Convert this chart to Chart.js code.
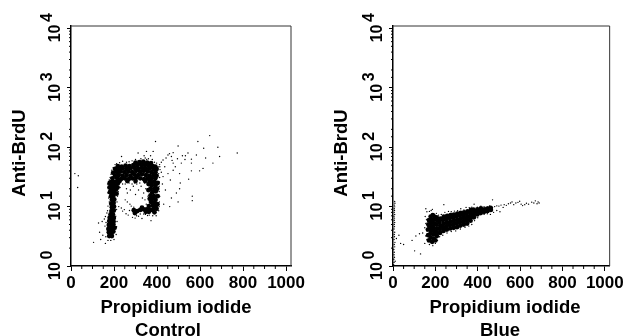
<!DOCTYPE html>
<html>
<head>
<meta charset="utf-8">
<style>
  html, body { margin: 0; padding: 0; background: #fff; overflow: hidden; }
  canvas { position: absolute; top: 0; }
  #controlChart { left: 0; }
  #blueChart { left: 313px; }
</style>
<script src="https://cdn.jsdelivr.net/npm/chart.js@4"></script>
</head>
<body>
<canvas id="controlChart" width="313" height="336"></canvas>
<canvas id="blueChart" width="313" height="336"></canvas>
<script>
// axis labels
const xTickLabels = [0, 200, 400, 600, 800, 1000];
const yTickLabels = [1, 10, 100, 1000, 10000];
const yExponents = ['0', '1', '2', '3', '4'];

// Control panel: solid parts of the cloud [propidium iodide, anti-BrdU]
const controlDense = [
  [178,3.2],[190,3.2],[176,3.7],[187,3.6],[197,3.8],[174,4.2],[184,4.2],[194,4.3],[203,4.4],[176,4.9],[186,4.9],[197,5],
  [178,5.7],[188,5.7],[198,5.6],[180,6.5],[190,6.6],[199,6.4],[184,7.4],[195,7.4],
  [188,8.4],[199,8.6],[190,9.8],[200,10],[187,11.2],[198,11.5],[190,13],[201,13.2],[186,15],[197,15.2],[190,17],[201,17.4],
  [188,19.5],[199,20],[209,19.5],[186,22.5],[197,23],[208,22.5],[188,26],[199,26],[211,26],
  [181,17.5],[179,21],[180,25],[212,16.5],[216,21],[219,25],
  [215,30],[232,29],[250,30],[268,29],[286,30],[303,31],[322,30],[340,29],[358,30],[375,30],[392,30],
  [193,30],[205,33],[222,34],[240,33],[258,34],[276,33],[294,35],[312,34],[330,35],[348,34],[366,33],[384,34],[398,33],
  [196,37],[214,38],[231,39],[249,38],[267,39],[285,38],[303,40],[321,39],[339,40],[357,39],[375,38],[393,38],
  [205,43],[222,43],[240,44],[258,43],[276,44],[294,45],[312,44],[330,45],[348,44],[366,44],[384,43],[398,43],
  [218,48],[236,47],[254,49],[272,48],[290,50],[308,50],[326,51],[344,50],[362,49],[380,48],[392,47],
  [300,55],[318,56],[336,57],[354,55],[372,54],
  [226,27],[262,27],[300,27],[345,27],[365,27],
  [372,26],[388,26],[375,23],[392,23],[370,20],[387,20],[378,17.5],[394,18],[370,15.5],[386,15],[378,13.5],[393,13],
  [372,12],[388,11.8],[380,10.5],[394,10.3],[385,9.2],[398,9.2],[375,8.8],[388,8],
  [361,24],[403,25],[360,19],[401,20],[403,15],[402,11],[362,10.2],[366,13.5],
  [297,7.8],[308,8.4],[322,8.8],[338,9],[352,9],[365,8.9],[330,9.6],[348,8.2],[362,8.2],[292,8.7]
];

// Control panel: single events
const controlSparse = [
  [18,36],[34,33],[31,21],[105,2.5],[138,2.8],[160,2.4],[128,5.3],[133,3.7],[145,5.6],[148,3.3],[158,4.7],[155,6.2],
  [162,3.1],[163,5.4],[160,6.8],[167,7.8],[172,2.7],[185,2.7],[200,2.8],[210,3.4],[212,4.6],[214,5.6],[208,6.9],[170,8.5],
  [172,10.2],[178,12],[175,14],[172,17],[176,21],[170,24],[178,28],[182,31],[186,35],[190,41],[196,45],[205,51],
  [212,9],[214,12],[216,15],[219,18],[222,22],[225,25],[228,21],[240,24],[252,24],[258,20],[262,17],[270,25],
  [276,19],[284,24],[290,22],[296,25],[300,16],[306,24],[314,19],[320,25],[326,22],[332,14],[338,17],[342,25],[348,20],
  [354,24],[358,15],[350,11],[344,13],[252,13],[262,12],[274,11],[222,10],[234,9.5],[240,8.4],[248,8.9],[256,7.6],
  [266,7.2],[272,8.6],[280,10.2],[286,6.6],[292,9.8],[298,6.4],[305,7],[314,6.9],[322,7.5],[330,6.3],[338,7.5],[346,7.4],
  [356,7.1],[364,7.2],[372,5.8],[380,7],[396,7],[408,8.5],[410,10],[411,12],[412,15],[410,18],[410,22],[410,26],[412,31],
  [408,36],[414,42],[405,47],[412,51],[398,54],[388,56],[378,62],[360,64],[345,66],[325,64],[312,80],[300,62],[284,59],
  [270,57],[258,56],[235,70],[240,58],[226,55],[212,53],[351,85],[382,85],[393,125],[370,72],[340,72],[352,62],
  [645,157],[590,125],[498,105],[683,100],[617,96],[773,80],[691,70],[660,54],[626,66],[583,74],[544,80],[560,63],
  [518,72],[495,64],[475,81],[451,74],[467,70],[428,61],[513,54],[560,54],[614,44],[598,40],[560,40],[547,29],[508,25],
  [505,20],[490,17],[564,15],[564,12.6],[498,12],[467,14],[459,10],[431,11],[439,19],[462,28],[428,32],[451,36],[475,41],
  [413,47],[436,47],[475,54],[505,36],[420,56],[442,66],[458,78],[470,60],[485,47],[530,62],[532,72],[420,38],[425,24]
];

// Blue panel: solid part of the cloud
const blueDense = [
  [170,2.7],[185,2.55],[200,2.7],[166,3.3],[165,4.1],[167,5],[170,5.9],[178,6.8],[188,7.2],[172,4.6],
  [178,3],[177,3.5],[179,4],[176,4.6],[180,5.3],[182,6],
  [192,2.9],[191,3.4],[193,3.9],[190,4.5],[194,5.2],[192,6],[195,6.8],
  [207,3.2],[206,3.7],[208,4.3],[205,5],[209,5.8],[206,6.6],
  [222,3.6],[221,4.2],[223,4.8],[220,5.5],[224,6.3],
  [238,3.9],[237,4.5],[239,5.2],[236,6],[240,6.8],
  [254,4.1],[253,4.7],[255,5.4],[252,6.2],[256,7],
  [270,4.3],[269,4.9],[271,5.6],[268,6.4],[272,7.2],
  [286,4.4],[285,5],[287,5.7],[284,6.5],[288,7.3],
  [302,4.5],[301,5.2],[303,6],[300,6.8],[304,7.6],
  [318,4.8],[317,5.5],[319,6.3],[316,7.1],[320,7.8],
  [334,5],[333,5.7],[335,6.5],[332,7.3],[336,8],
  [350,5.2],[349,5.9],[351,6.7],[348,7.5],[352,8.3],
  [366,5.8],[365,6.5],[367,7.3],[364,8.1],[368,8.8],
  [382,6.6],[381,7.4],[383,8.2],[380,8.9],
  [398,7.4],[397,8.2],[399,9],[414,7.8],[413,8.6],[415,9.3],
  [430,8.2],[431,9],[446,8.4],[445,9.2],[462,8.8],[461,9.5]
];

// Blue panel: single events, the column by the axis and the tail on the right
const blueSparse = [
  [3,1.05],[5,1.15],[4,1.3],[7,1.4],[5,1.55],[6,1.7],[4,1.9],[8,2.1],[6,2.3],[9,2.5],[5,2.8],[7,3.1],[6,3.4],[8,3.7],
  [5,4.2],[7,4.6],[6,5],[8,5.4],[6,5.9],[7,6.4],[5,6.9],[8,7.4],[6,8],[7,8.6],[6,9.2],[8,9.9],[7,10.6],[9,11.4],[8,12.2],
  [10,1.2],[16,2.9],[28,3.3],[36,2.4],[50,2.3],[90,2.7],[102,1.8],[130,1.6],[108,3.2],[125,3.5],[140,3.6],[150,2.4],
  [150,4.4],[155,5.2],[158,6.1],[160,3.9],[155,3.2],[152,6.8],[160,8.2],[155,9.2],[172,8.3],[180,8.6],[186,9],[160,2.8],
  [172,2.3],[188,2.2],[200,2.4],[210,2.7],[205,7.7],[215,7.2],[228,7.4],[240,10.8],[245,8],[262,8.3],[275,8.2],[290,8.4],
  [305,8.5],[320,9.2],[335,8.8],[345,9.7],[360,9.6],[372,9.8],[383,11],[398,9.8],[415,10.2],[430,10],[448,10],[470,13],
  [456,10.3],[470,9.6],[480,10],[490,10.3],[500,10.2],[510,10.6],[525,10.8],[520,9.7],[535,10.5],[545,11.2],[555,11.5],
  [562,12],[570,10.8],[580,11.5],[590,11.8],[598,12.3],[605,11],[612,10.4],[622,10.8],[630,11.4],[640,11],[655,11.9],
  [665,11.5],[672,12.5],[680,11.2],[685,12],[690,11.5],[430,7.4],[445,7.6],[460,7.4],[475,8],[490,8.6],[505,8.2],[400,6.5],
  [385,5.8],[372,5],[358,4.7],[340,4.5],[318,4.2],[296,3.9],[275,3.8],[255,3.6],[235,3.3],[220,3.1]
];

// short ticks, the 10 exponents and the axis texts, none of them is available as a Chart.js option
const panelDecor = {
  id: 'panelDecor',
  afterDraw(chart, args, opts) {
    const ctx = chart.ctx, area = chart.chartArea;
    const x = chart.scales.x, y = chart.scales.y;
    ctx.save();
    ctx.strokeStyle = '#000';
    ctx.lineWidth = 1;
    ctx.beginPath();
    x.ticks.forEach((t, i) => {
      if (xTickLabels.includes(t.value)) return;
      const px = x.getPixelForTick(i);
      ctx.moveTo(px, area.bottom);
      ctx.lineTo(px, area.bottom + 3);
    });
    y.ticks.forEach((t, i) => {
      if (yTickLabels.includes(t.value)) return;
      const py = y.getPixelForTick(i);
      ctx.moveTo(area.left, py);
      ctx.lineTo(area.left - 2, py);
    });
    ctx.stroke();

    // frame on top and right
    ctx.strokeStyle = '#333';
    ctx.beginPath();
    ctx.moveTo(area.left, area.top);
    ctx.lineTo(area.right, area.top);
    ctx.lineTo(area.right, area.bottom);
    ctx.stroke();

    ctx.fillStyle = '#000';
    ctx.textAlign = 'center';
    ctx.textBaseline = 'middle';
    ctx.font = 'bold 16px "Liberation Sans"';
    yTickLabels.forEach((v, i) => {
      ctx.save();
      ctx.translate(area.left - 23, y.getPixelForValue(v) - 11);
      ctx.rotate(-Math.PI / 2);
      ctx.fillText(yExponents[i], 0, 0);
      ctx.restore();
    });

    ctx.font = 'bold 18.5px "Liberation Sans"';
    ctx.save();
    ctx.translate(area.left - 51, (area.top + area.bottom) / 2 + 7);
    ctx.rotate(-Math.PI / 2);
    ctx.fillText('Anti-BrdU', 0, 0);
    ctx.restore();
    ctx.fillText('Propidium iodide', area.left + opts.xTitleShift, 308);
    ctx.fillText(opts.panelName, area.left + opts.nameShift, 331);
    ctx.restore();
  }
};

function toPoints(list) {
  return list.map(p => ({ x: p[0], y: p[1] }));
}

function makePanel(id, dense, sparse, axisLeft, rightPad, panelName, xTitleShift, nameShift) {
  return new Chart(document.getElementById(id), {
    type: 'scatter',
    data: {
      datasets: [
        { label: panelName, data: toPoints(dense), pointRadius: 2.4, backgroundColor: '#000', borderWidth: 0 },
        { label: panelName + ' events', data: toPoints(sparse), pointRadius: 0.7, backgroundColor: '#000', borderWidth: 0 }
      ]
    },
    plugins: [panelDecor],
    options: {
      responsive: false,
      animation: false,
      layout: { padding: { top: 26, right: rightPad, left: 0, bottom: 0 } },
      plugins: {
        legend: { display: false },
        tooltip: { enabled: false },
        panelDecor: { panelName: panelName, xTitleShift: xTitleShift, nameShift: nameShift }
      },
      scales: {
        x: {
          type: 'linear',
          min: 0,
          max: 1023,
          afterFit: s => { s.height = 70; },
          border: { color: '#000', width: 1.5 },
          grid: {
            drawOnChartArea: false,
            tickLength: 5,
            tickColor: c => xTickLabels.includes(c.tick.value) ? '#000' : 'transparent'
          },
          ticks: {
            stepSize: 50,
            includeBounds: false,
            autoSkip: false,
            maxRotation: 0,
            padding: 2,
            color: '#000',
            font: { family: '"Liberation Sans"', size: 17, weight: 'bold' },
            callback: v => xTickLabels.includes(v) ? String(v) : ''
          }
        },
        y: {
          type: 'logarithmic',
          min: 1,
          max: 11000,
          afterFit: s => { s.width = axisLeft; },
          afterBuildTicks: s => { s.ticks = s.ticks.filter(t => t.value <= 10000); },
          border: { color: '#000', width: 1.5 },
          grid: {
            drawOnChartArea: false,
            tickLength: 4,
            tickColor: c => yTickLabels.includes(c.tick.value) ? '#000' : 'transparent'
          },
          ticks: {
            autoSkip: false,
            minRotation: 90,
            maxRotation: 90,
            crossAlign: 'center',
            labelOffset: 5,
            padding: 3,
            color: '#000',
            font: { family: '"Liberation Sans"', size: 16, weight: 'bold' },
            callback: v => yTickLabels.includes(v) ? '10' : ''
          }
        }
      }
    }
  });
}

makePanel('controlChart', controlDense, controlSparse, 71, 22, 'Control', 105, 97);
makePanel('blueChart', blueDense, blueSparse, 80, 13, 'Blue', 112, 107);
</script>
</body>
</html>
